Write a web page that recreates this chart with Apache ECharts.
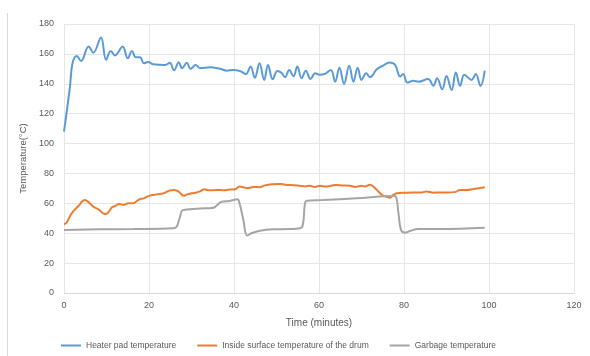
<!DOCTYPE html>
<html>
<head>
<meta charset="utf-8">
<script src="https://cdn.jsdelivr.net/npm/echarts@6/dist/echarts.min.js"></script>
<style>
  html, body { margin: 0; padding: 0; background: #fff; }
  #chart { width: 590px; height: 356px; }
</style>
</head>
<body>
<div id="chart"></div>
<script>
// time in minutes, temperature in °C
var heaterPad = [
  [0, 108], [1.4, 138], [2, 153.7], [3, 158.6], [4, 155.3], [5.8, 165], [6.9, 160.8],
  [8.7, 171], [9.9, 156], [11, 162], [12, 159], [13.8, 165], [15, 157], [16, 162],
  [16.9, 157.7], [17.9, 157.7], [18.8, 153.7], [19.8, 154.5], [21, 153], [23.8, 152.6],
  [24.9, 154], [25.9, 149], [27, 154.4], [27.8, 150.4], [28.9, 154], [29.8, 150],
  [31, 152.6], [32, 150.4], [34.4, 151], [36.7, 150], [38.3, 148.8], [39.8, 149.3],
  [41.4, 148.6], [42.8, 146.6], [43.9, 151.5], [44.9, 144], [46, 153.7], [47.1, 142.6],
  [48, 152.6], [49.1, 143], [50.2, 148.6], [51.2, 147.3], [52, 144.4], [53, 149.3],
  [54, 145], [54.9, 151.5], [55.9, 143.7], [56.9, 148.8], [58, 143.2], [59.1, 147],
  [60.1, 146], [61.4, 146.6], [62.8, 149.3], [63.8, 141.4], [64.8, 150.8], [65.9, 139.9],
  [67.1, 152], [68.1, 141.4], [69.1, 150.8], [70, 142.6], [71.1, 147], [72, 144.4],
  [73.6, 149.7], [75.1, 152.2], [76.6, 154.2], [77.9, 152.6], [79.1, 144.8], [79.8, 146.6],
  [80.8, 140.8], [82.2, 142], [83.4, 141.4], [85.7, 143.2], [86.9, 138.6], [87.8, 143.7],
  [89, 136.3], [90, 145.2], [91.2, 135.9], [92.2, 147.5], [93.2, 138.6], [94.2, 146],
  [95.9, 142.6], [96.9, 146.6], [98, 138.6], [99, 148.8]
];
var drumSurface = [
  [0, 46], [0.6, 47], [1.8, 53.3], [3.4, 58.2], [4.9, 62.2], [5.7, 61], [6.9, 57.8],
  [8.1, 56], [9.6, 52.9], [10, 53], [11.3, 57.4], [12, 58.2], [13, 59.6], [14, 59],
  [15.1, 60], [16.2, 60], [17.7, 62.7], [18.8, 63.3], [20, 65], [21.8, 66], [23.4, 66.7],
  [24.6, 68.3], [25.8, 69], [26.9, 68], [28.2, 65], [29, 66], [30, 66.7], [31.2, 67.3],
  [32, 68], [33, 69.4], [34, 68.7], [35.2, 68.7], [36.3, 69], [37.5, 68.7], [39, 69.2],
  [40.2, 69.4], [41.3, 71.2], [42.2, 70.8], [43.2, 70.2], [44.6, 71], [46, 70.8],
  [47.3, 72], [48.9, 72.7], [50.8, 73], [52, 72.5], [53.2, 72.2], [55.5, 71.8],
  [56.7, 71.3], [57.9, 71.8], [59, 71], [60.2, 71.7], [61.8, 71.3], [63.8, 72.3],
  [65.7, 72], [67.3, 71.8], [68.5, 71], [70, 71.7], [70.8, 71.3], [72, 72.5], [72.8, 71.3],
  [74, 67.8], [75.1, 65.1], [76.7, 63.8], [77.5, 65.6], [78.3, 66.7], [80.3, 67.1],
  [82.2, 67.3], [84.2, 67.3], [85.3, 68], [86.9, 67.1], [88.4, 67.3], [90, 67.3],
  [91.9, 67.5], [93.2, 69], [94.7, 69], [96.3, 69.6], [99, 70.7]
];
var garbage = [
  [0, 42.2], [8.5, 42.6], [16.3, 42.8], [25.7, 43.3], [26.5, 44.3], [27.3, 51],
  [27.9, 55.5], [28.9, 55.8], [32, 56.5], [35.2, 57.1], [36, 58.7], [37.1, 61.1],
  [39, 61.6], [40.8, 62.7], [41.3, 60], [42.2, 48.9], [43.1, 38.4], [44.1, 40],
  [46.1, 41.7], [49.2, 42.6], [53.2, 42.8], [55.5, 43.3], [56.2, 45.5], [56.7, 60],
  [57.2, 61.8], [61, 62.2], [68.8, 63.4], [77.5, 64.9], [78.1, 64.5], [78.7, 53.3],
  [79.3, 42.2], [80.2, 40.4], [81.4, 41.5], [83.3, 42.8], [88.4, 42.8], [99, 43.7]
];
var seriesNames = ['Heater pad temperature', 'Inside surface temperature of the drum', 'Garbage temperature'];
var seriesColors = ['#5B9BD5', '#ED7D31', '#A5A5A5'];

var chart = echarts.init(document.getElementById('chart'));
var textColor = '#595959';
var fontFamily = 'Liberation Sans, Arial, sans-serif';

chart.setOption({
  animation: false,
  textStyle: { fontFamily: fontFamily },
  color: seriesColors,
  grid: { left: 64, right: 16, top: 24, bottom: 63 },
  graphic: [{
    type: 'line',
    shape: { x1: 7.5, y1: 13, x2: 7.5, y2: 356 },
    style: { stroke: '#d9d9d9', lineWidth: 1 }
  }],
  xAxis: {
    type: 'value', min: 0, max: 120, interval: 20,
    name: 'Time (minutes)', nameLocation: 'middle', nameGap: 25,
    nameTextStyle: { color: textColor, fontSize: 10, fontFamily: fontFamily },
    axisLine: { show: true, lineStyle: { color: '#d9d9d9' } },
    axisTick: { show: false },
    axisLabel: { color: textColor, fontSize: 9, margin: 8 },
    splitLine: { show: true, lineStyle: { color: '#e6e6e6' } }
  },
  yAxis: {
    type: 'value', min: 0, max: 180, interval: 20,
    name: 'Temperature(°C)', nameLocation: 'middle', nameGap: 30,
    nameTextStyle: { color: textColor, fontSize: 9.5, fontFamily: fontFamily },
    axisLine: { show: false },
    axisTick: { show: false },
    axisLabel: { color: textColor, fontSize: 9, margin: 10 },
    splitLine: { show: true, lineStyle: { color: '#e6e6e6' } }
  },
  legend: {
    bottom: 1, left: 56,
    icon: 'rect', itemWidth: 20, itemHeight: 2, itemGap: 21,
    textStyle: { color: textColor, fontSize: 8.5 },
    data: seriesNames
  },
  series: [heaterPad, drumSurface, garbage].map(function (d, i) {
    return {
      name: seriesNames[i],
      type: 'line',
      data: d,
      smooth: 0.4,
      showSymbol: false,
      symbol: 'none',
      lineStyle: { width: 2, color: seriesColors[i] }
    };
  })
});
</script>
</body>
</html>
